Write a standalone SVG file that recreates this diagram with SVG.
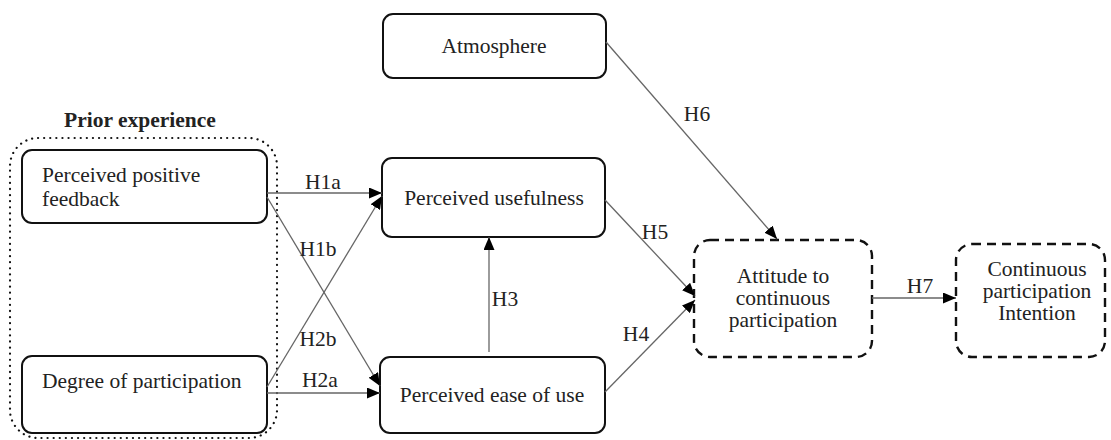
<svg xmlns="http://www.w3.org/2000/svg" width="1111" height="440" viewBox="0 0 1111 440">
<style>
text{font-family:'Liberation Serif','DejaVu Serif',serif;font-size:21.5px;fill:#222}
.box{fill:#fff;stroke:#111;stroke-width:2}
.dash{fill:#fff;stroke:#111;stroke-width:2.4;stroke-dasharray:9,6}
.ln{stroke:#666;stroke-width:1.3;fill:none}
.mid{text-anchor:middle}
</style>
<defs>
<marker id="ah" viewBox="0 0 13 11" refX="13" refY="5.5" markerWidth="13" markerHeight="11" markerUnits="userSpaceOnUse" orient="auto">
<path d="M0,0 L13,5.5 L0,11 Z" fill="#000"/>
</marker>
</defs>
<rect width="1111" height="440" fill="#fff"/>
<g id="prior-experience">
<rect x="10" y="138" width="267" height="300" rx="28" fill="none" stroke="#111" stroke-width="2.2" stroke-dasharray="0.1,6" stroke-linecap="round"/>
<text x="140" y="127" class="mid" font-weight="bold">Prior experience</text>
</g>
<g id="atmosphere">
<rect class="box" x="383" y="14" width="223" height="64" rx="10"/>
<text x="494" y="53" class="mid">Atmosphere</text>
</g>
<g id="perceived-positive-feedback">
<rect class="box" x="22" y="150" width="245" height="73" rx="10"/>
<text x="42" y="182">Perceived positive</text>
<text x="42" y="206">feedback</text>
</g>
<g id="degree-of-participation">
<rect class="box" x="22" y="356" width="245" height="77" rx="10"/>
<text x="42" y="388">Degree of participation</text>
</g>
<g id="perceived-usefulness">
<rect class="box" x="382" y="158" width="223" height="79" rx="10"/>
<text x="494" y="205" class="mid">Perceived usefulness</text>
</g>
<g id="perceived-ease-of-use">
<rect class="box" x="380" y="357" width="225" height="76" rx="10"/>
<text x="492" y="402" class="mid">Perceived ease of use</text>
</g>
<g id="attitude">
<rect class="dash" x="694" y="240" width="178" height="117" rx="16"/>
<text x="783" y="283" class="mid">Attitude to</text>
<text x="783" y="305" class="mid">continuous</text>
<text x="783" y="327" class="mid">participation</text>
</g>
<g id="intention">
<rect class="dash" x="956" y="244" width="149" height="113" rx="16"/>
<text x="1037" y="276" class="mid">Continuous</text>
<text x="1037" y="298" class="mid">participation</text>
<text x="1037" y="320" class="mid">Intention</text>
</g>
<g id="connectors">
<line class="ln" x1="267" y1="193" x2="382" y2="193" marker-end="url(#ah)"/>
<line class="ln" x1="267" y1="197" x2="380" y2="386" marker-end="url(#ah)"/>
<line class="ln" x1="267" y1="387" x2="382" y2="196" marker-end="url(#ah)"/>
<line class="ln" x1="267" y1="393" x2="380" y2="393" marker-end="url(#ah)"/>
<line class="ln" x1="489" y1="352" x2="489" y2="237" marker-end="url(#ah)"/>
<line class="ln" x1="605" y1="200" x2="695" y2="296" marker-end="url(#ah)"/>
<line class="ln" x1="605" y1="392" x2="695" y2="300" marker-end="url(#ah)"/>
<line class="ln" x1="606" y1="42" x2="777" y2="239" marker-end="url(#ah)"/>
<line class="ln" x1="872" y1="298" x2="956" y2="298" marker-end="url(#ah)"/>
<text x="323" y="189" class="mid">H1a</text>
<text x="318" y="256" class="mid">H1b</text>
<text x="318" y="346" class="mid">H2b</text>
<text x="320" y="387" class="mid">H2a</text>
<text x="505" y="306" class="mid">H3</text>
<text x="636" y="341" class="mid">H4</text>
<text x="655" y="239" class="mid">H5</text>
<text x="697" y="121" class="mid">H6</text>
<text x="920" y="293" class="mid">H7</text>
</g>
</svg>
